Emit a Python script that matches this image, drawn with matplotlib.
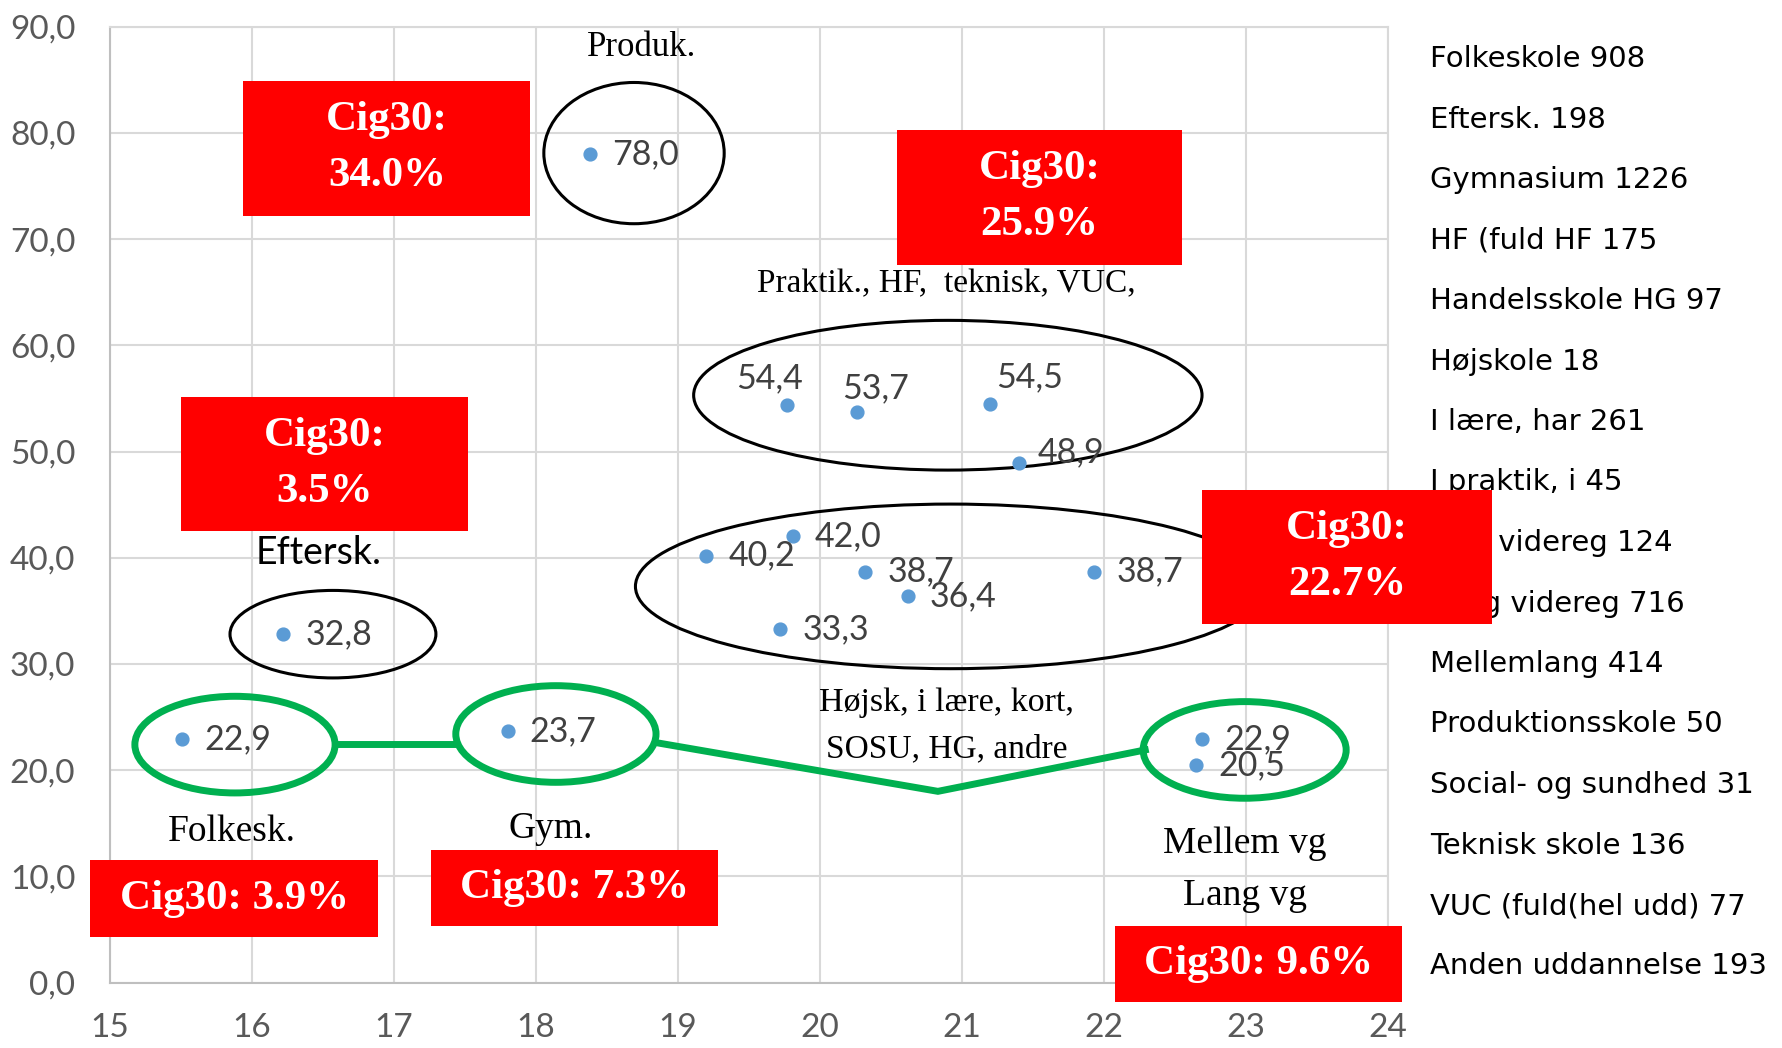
import numpy as np
import matplotlib
matplotlib.use("Agg")
import matplotlib.pyplot as plt
from matplotlib.patches import Ellipse, Rectangle
from matplotlib.ticker import FuncFormatter

# data: age (x) against share (y) per education category
categories = ["Folkeskole 908", "Eftersk. 198", "Gymnasium 1226", "HF (fuld HF 175",
              "Handelsskole HG 97", "Højskole 18", "I lære, har 261", "I praktik, i 45",
              "Kort videreg 124", "Lang videreg 716", "Mellemlang 414", "Produktionsskole 50",
              "Social- og sundhed 31", "Teknisk skole 136", "VUC (fuld(hel udd) 77",
              "Anden uddannelse 193"]
x_age = [15.51, 16.22, 17.80, 20.26, 19.72, 19.20, 19.81, 19.77,
         20.32, 22.65, 22.69, 18.38, 20.62, 21.20, 21.40, 21.93]
y_share = [22.9, 32.8, 23.7, 53.7, 33.3, 40.2, 42.0, 54.4,
           38.7, 20.5, 22.9, 78.0, 36.4, 54.5, 48.9, 38.7]

# label offsets in pixels (dx, dy, ha) -- default is right of the point
label_offsets = {3: (19, 24, "center"), 7: (-18, 27, "center"), 13: (39, 26, "center"),
                 14: (19, 11, "left")}

# annotations
boxes = [  # (x0, x1, y0, y1, text)
    (15.94, 17.96, 72.2, 84.9, "Cig30:\n34.0%"),
    (20.54, 22.55, 67.6, 80.3, "Cig30:\n25.9%"),
    (15.50, 17.52, 42.5, 55.1, "Cig30:\n3.5%"),
    (22.69, 24.73, 33.8, 46.4, "Cig30:\n22.7%"),
    (14.86, 16.89, 4.3, 11.5, "Cig30: 3.9%"),
    (17.26, 19.28, 5.35, 12.5, "Cig30: 7.3%"),
    (22.08, 24.10, -1.8, 5.35, "Cig30: 9.6%"),
]
black_ellipses = [(18.69, 78.1, 1.27, 13.3), (20.90, 55.3, 3.58, 14.1),
                  (20.92, 37.3, 4.44, 15.5), (16.57, 32.8, 1.45, 8.24)]
green_ellipses = [(15.88, 22.4, 1.41, 9.1), (18.14, 23.4, 1.41, 9.1), (22.99, 21.9, 1.43, 9.1)]
green_lines = [([16.59, 17.42], [22.5, 22.5]),
               ([18.84, 20.83, 22.29], [22.6, 18.0, 21.9])]
serif_labels = [(18.74, 88.0, "Produk.", 25),
                (20.89, 65.8, "Praktik., HF,  teknisk, VUC,", 24),
                (20.89, 26.3, "Højsk, i lære, kort,", 24.5),
                (20.89, 22.0, "SOSU, HG, andre", 24),
                (15.86, 14.2, "Folkesk.", 27),
                (18.10, 14.5, "Gym.", 27),
                (22.99, 13.1, "Mellem vg", 27),
                (22.99, 8.2, "Lang vg", 27)]

SANS = ["Lato", "DejaVu Sans"]
SERIF = ["Liberation Serif", "DejaVu Serif"]
GREY = "#595959"
GREEN = "#00B050"

fig = plt.figure(figsize=(17.83, 10.48), dpi=100)
ax = fig.add_axes([0.0617, 0.0625, 0.7168, 0.912])
ax.set_xlim(15, 24)
ax.set_ylim(0, 90)
ax.set_xticks(range(15, 25))
ax.set_yticks(np.arange(0, 91, 10))
ax.yaxis.set_major_formatter(FuncFormatter(lambda v, p: ("%.1f" % v).replace(".", ",")))
ax.grid(True, color="#D9D9D9", lw=1.5)
ax.set_axisbelow(True)
for s in ax.spines.values():
    s.set_color("#D9D9D9")
    s.set_linewidth(1.5)
ax.spines["left"].set_color("#BFBFBF")
ax.spines["bottom"].set_color("#BFBFBF")
ax.tick_params(length=0, labelsize=24, labelcolor=GREY)
ax.tick_params(axis="y", pad=25)
ax.tick_params(axis="x", pad=22)
for lab in ax.get_xticklabels() + ax.get_yticklabels():
    lab.set_family(SANS)

ax.scatter(x_age, y_share, s=85, color="#5B9BD5", zorder=4, clip_on=False)
for i, (xv, yv) in enumerate(zip(x_age, y_share)):
    dx, dy, ha = label_offsets.get(i, (22, 0, "left"))
    ax.annotate(("%.1f" % yv).replace(".", ","), (xv, yv), xytext=(dx, dy),
                textcoords="offset pixels", ha=ha, va="center", fontsize=24.5,
                color="#404040", family=SANS, zorder=4)

for cx, cy, w, h in black_ellipses:
    ax.add_patch(Ellipse((cx, cy), w, h, fill=False, ec="black", lw=2.2, zorder=3))
for cx, cy, w, h in green_ellipses:
    ax.add_patch(Ellipse((cx, cy), w, h, fill=False, ec=GREEN, lw=5, zorder=3))
for xs, ys in green_lines:
    ax.plot(xs, ys, color=GREEN, lw=5, zorder=3, solid_joinstyle="miter")

for xv, yv, t, fs in serif_labels:
    ax.text(xv, yv, t, ha="center", va="center", fontsize=fs, family=SERIF, zorder=4)
ax.text(16.47, 40.4, "Eftersk.", ha="center", va="center", fontsize=27, family=SANS, zorder=4)

# legend column on the right
for i, name in enumerate(categories):
    ax.text(0.802, 1 - (59 + i * 60.5) / 1048, name, transform=fig.transFigure,
            ha="left", va="center", fontsize=21, family=["DejaVu Sans"], zorder=1)

for x0, x1, y0, y1, t in boxes:
    ax.add_patch(Rectangle((x0, y0), x1 - x0, y1 - y0, fc="#FF0000", ec="none",
                           zorder=6, clip_on=False))
    ax.text((x0 + x1) / 2, (y0 + y1) / 2, t, ha="center", va="center", color="white",
            fontsize=31, fontweight="bold", family=SERIF, linespacing=1.62, zorder=7)

fig.savefig("out.png", dpi=100)
